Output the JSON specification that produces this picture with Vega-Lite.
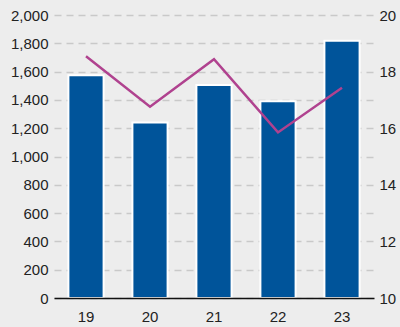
{
  "$schema": "https://vega.github.io/schema/vega-lite/v6.json",
  "width": 320,
  "height": 283,
  "autosize": {"type": "none"},
  "padding": {"left": 54, "top": 15, "right": 26, "bottom": 29},
  "background": "#ededed",
  "config": {
    "view": {"stroke": null},
    "font": "Liberation Sans",
    "axis": {"labelFont": "Liberation Sans", "labelFontSize": 15, "labelColor": "#222222"}
  },
  "data": {
    "values": [
      {"year": "19", "value": 1575, "ratio": 18.54},
      {"year": "20", "value": 1240, "ratio": 16.76},
      {"year": "21", "value": 1505, "ratio": 18.44},
      {"year": "22", "value": 1390, "ratio": 15.85},
      {"year": "23", "value": 1818, "ratio": 17.43}
    ]
  },
  "encoding": {
    "x": {
      "field": "year",
      "type": "nominal",
      "scale": {"paddingInner": 0.45, "paddingOuter": 0.225},
      "axis": {
        "title": null,
        "labelAngle": 0,
        "ticks": false,
        "labelPadding": 11,
        "domainColor": "#111111",
        "domainWidth": 1.5,
        "grid": false,
        "zindex": 1
      }
    }
  },
  "layer": [
    {
      "mark": {"type": "bar", "color": "#00549a", "stroke": "#ffffff", "strokeWidth": 2},
      "encoding": {
        "y": {
          "field": "value",
          "type": "quantitative",
          "scale": {"domain": [0, 2000]},
          "axis": {
            "title": null,
            "values": [0, 200, 400, 600, 800, 1000, 1200, 1400, 1600, 1800, 2000],
            "format": ",d",
            "ticks": false,
            "domain": false,
            "labelPadding": 6,
            "grid": true,
            "gridColor": "#c9c9c9",
            "gridDash": [7, 5],
            "gridWidth": 1.5
          }
        }
      }
    },
    {
      "mark": {"type": "line", "color": "#b0428f", "strokeWidth": 2.5},
      "encoding": {
        "y": {
          "field": "ratio",
          "type": "quantitative",
          "scale": {"domain": [10, 20]},
          "axis": {
            "title": null,
            "orient": "right",
            "values": [10, 12, 14, 16, 18, 20],
            "ticks": false,
            "domain": false,
            "grid": false,
            "labelPadding": 5
          }
        }
      }
    }
  ],
  "resolve": {"scale": {"y": "independent"}}
}
